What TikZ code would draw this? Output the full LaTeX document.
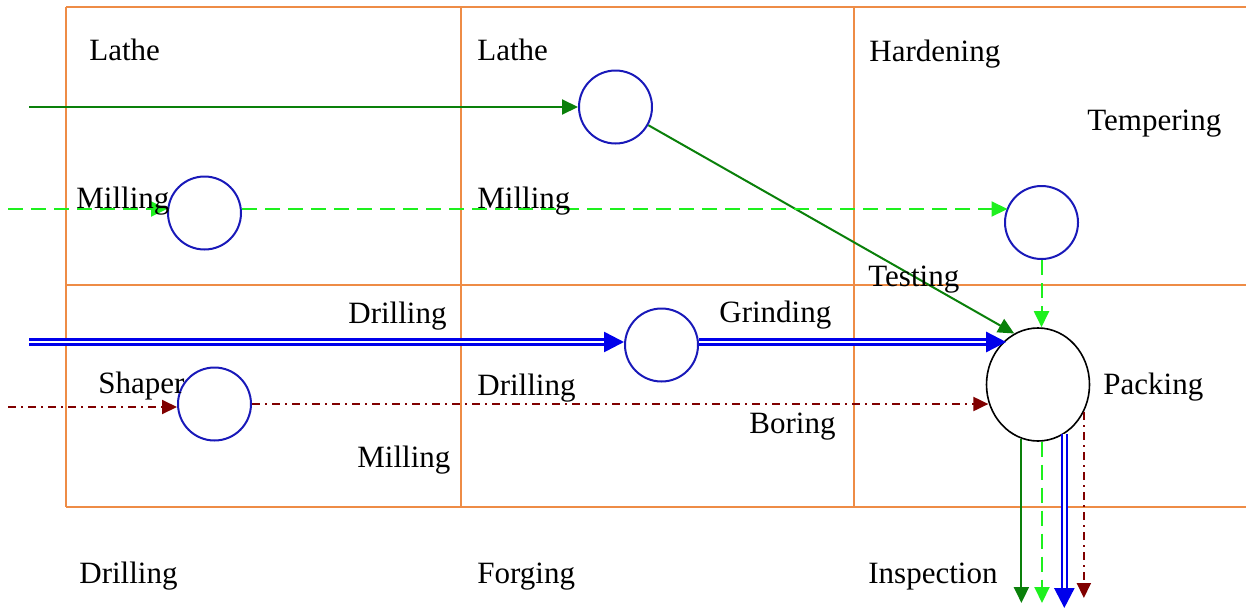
\documentclass[tikz,border=0pt]{standalone}
\usepackage{fontspec}
\setmainfont{Liberation Serif}
\usetikzlibrary{arrows.meta,shapes.geometric}
\definecolor{gridc}{RGB}{238,140,70}
\definecolor{circblue}{RGB}{25,25,185}
\definecolor{dkgreen}{RGB}{10,128,10}
\definecolor{ltgreen}{RGB}{30,240,30}
\definecolor{dblue}{RGB}{0,0,235}
\definecolor{dkred}{RGB}{128,0,0}
\begin{document}
\begin{tikzpicture}[x=0.5pt,y=-0.5pt,
  gridline/.style={draw=gridc, line width=1pt},
  proc/.style={circle, draw=circblue, line width=1pt, minimum size=36.5pt, inner sep=0pt},
  hub/.style={ellipse, draw=black, line width=0.8pt, minimum width=51.5pt, minimum height=56.5pt, inner sep=0pt},
  lbl/.style={anchor=base west, inner sep=0pt, font=\fontsize{15.5}{18}\selectfont},
  flowA/.style={draw=dkgreen, line width=1pt, -{Triangle[length=8pt,width=7.5pt]}},
  flowB/.style={draw=ltgreen, line width=1pt, dash pattern=on 7.5pt off 4pt, -{Triangle[length=8pt,width=7.5pt]}},
  flowC/.style={draw=dblue, line width=1.3pt, double=white, double distance=1.2pt, -{Triangle[length=10pt,width=10pt]}},
  flowD/.style={draw=dkred, line width=1pt, dash pattern=on 4pt off 2.5pt on 1pt off 2.5pt, -{Triangle[length=7.5pt,width=7pt]}},
]
\useasboundingbox (0,0) rectangle (1246,611);
% grid
\draw[gridline] (66,7) -- (1246,7);
\draw[gridline] (66,285) -- (1246,285);
\draw[gridline] (66,507) -- (1246,507);
\draw[gridline] (66,7) -- (66,507);
\draw[gridline] (461,7) -- (461,507);
\draw[gridline] (854,7) -- (854,507);

% process circles
\node[proc] (C1) at (615.5,107) {};
\node[proc] (C2) at (204.5,213) {};
\node[proc] (C3) at (1041.5,222.5) {};
\node[proc] (C4) at (661.5,345) {};
\node[proc] (C5) at (214.5,404) {};
\node[hub]  (H)  at (1038,384.5) {};

% free ends
\coordinate (s1) at (29,107);
\coordinate (s2) at (8,209);
\coordinate (s3) at (29,342);
\coordinate (s4) at (8,407);
\coordinate (o1) at (1022,603);
\coordinate (o2) at (1042,603);
\coordinate (o3) at (1064,608);
\coordinate (o4) at (1083,598);

% dark green route
\draw[flowA] (s1) -- (s1 -| C1.west);
\draw[flowA] (C1.-29) -- (H.115);
\draw[flowA] (H.253) -- (H.253 |- o1);

% light green route
\draw[flowB] (s2) -- (s2 -| C2.west);
\draw[flowB] (C2.east |- s2) -- (C3.155 |- s2);
\draw[flowB] (C3.south) -- (C3.south |- H.north);
\draw[flowB] (H.274) -- (H.274 |- o2);

% blue route
\draw[flowC] (s3) -- (s3 -| C4.west);
\draw[flowC] (C4.east |- s3) -- (H.125 |- s3);
\draw[flowC] (H.298) -- (H.298 |- o3);

% dark red route
\draw[flowD] (s4) -- (s4 -| C5.west);
\draw[flowD] (C5.east) -- (H.200 |- C5.east);
\draw[flowD] (H.329) -- (H.329 |- o4);

% labels
\node[lbl] (l1)  at (89,60)    {Lathe};
\node[lbl] (l2)  at (477,60)   {Lathe};
\node[lbl] (l3)  at (869,61)   {Hardening};
\node[lbl] (l4)  at (1087,130) {Tempering};
\node[lbl] (l5)  at (76,208)   {Milling};
\node[lbl] (l6)  at (477,208)  {Milling};
\node[lbl] (l7)  at (868,286)  {Testing};
\node[lbl] (l8)  at (348,323)  {Drilling};
\node[lbl] (l9)  at (719,322)  {Grinding};
\node[lbl] (l10) at (98,393)   {Shaper};
\node[lbl] (l11) at (477,395)  {Drilling};
\node[lbl] (l12) at (1103,394) {Packing};
\node[lbl] (l13) at (749,433)  {Boring};
\node[lbl] (l14) at (357,467)  {Milling};
\node[lbl] (l15) at (79,583)   {Drilling};
\node[lbl] (l16) at (477,583)  {Forging};
\node[lbl] (l17) at (868,583)  {Inspection};
\end{tikzpicture}
\end{document}
